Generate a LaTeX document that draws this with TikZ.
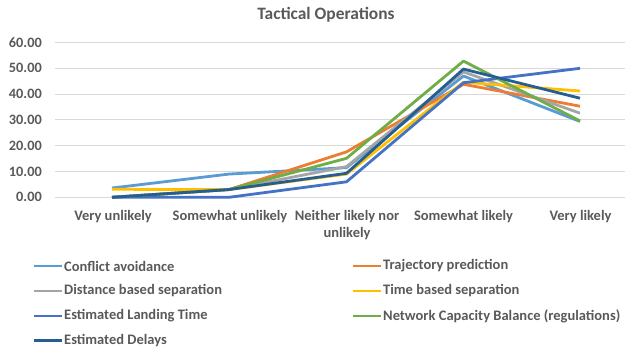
\documentclass[tikz,border=0pt]{standalone}
\usepackage{fontspec}
\setmainfont{Carlito}
\definecolor{txt}{HTML}{595959}
\definecolor{grid}{HTML}{D9D9D9}
\definecolor{sA}{HTML}{5B9BD5}
\definecolor{sB}{HTML}{ED7D31}
\definecolor{sC}{HTML}{A5A5A5}
\definecolor{sD}{HTML}{FFC000}
\definecolor{sE}{HTML}{4472C4}
\definecolor{sF}{HTML}{70AD47}
\definecolor{sG}{HTML}{255E91}
\tikzset{
  gridline/.style={draw=grid, line width=0.9pt},
  series/.style={line width=2.8pt, line join=round},
  ylab/.style={anchor=east, text=txt, font=\bfseries\fontsize{14.3}{16}\selectfont, inner sep=0pt},
  xlab/.style={anchor=base, text=txt, font=\bfseries\fontsize{14.5}{17}\selectfont, inner sep=0pt},
  leglab/.style={anchor=west, text=txt, font=\bfseries\fontsize{14.5}{16}\selectfont, inner sep=0pt},
  legline/.style={line width=2.8pt},
}
\begin{document}
\begin{tikzpicture}[x=1pt,y=-1pt]
\useasboundingbox (0,0) rectangle (625,353);
% title
\node[text=txt, font=\bfseries\fontsize{17.4}{20}\selectfont, inner sep=0pt] (title) at (326,15) {Tactical Operations};
% gridlines and y labels (zero at 197.3, 2.58 px per unit)
\foreach \v/\t in {0/0.00,10/10.00,20/20.00,30/30.00,40/40.00,50/50.00,60/60.00}{
  \draw[gridline] (55,{197.3-2.58*\v}) -- (625,{197.3-2.58*\v});
  \node[ylab] (y\v) at (42,{197.3-2.58*\v}) {\t};
}
% x labels
\node[xlab] (c1) at (113,220) {Very unlikely};
\node[xlab] (c2) at (230,220) {Somewhat unlikely};
\node[xlab] (c3) at (347,220) {Neither likely nor};
\node[xlab] (c3b) at (347,237) {unlikely};
\node[xlab] (c4) at (463.5,220) {Somewhat likely};
\node[xlab] (c5) at (580.5,220) {Very likely};
% series
\newcommand{\ser}[6]{%
  \draw[series,#1] (112,{197.3-2.58*#2}) -- (229,{197.3-2.58*#3}) -- (346.5,{197.3-2.58*#4}) -- (463.5,{197.3-2.58*#5}) -- (580,{197.3-2.58*#6});}
\ser{sA}{3.6}{9.0}{11.5}{47.0}{29.4}
\ser{sB}{0}{3.0}{17.6}{43.8}{35.3}
\ser{sC}{0}{3.0}{11.9}{48.6}{32.6}
\ser{sD}{3.1}{3.0}{9.0}{44.6}{41.2}
\ser{sE}{0}{0}{6.0}{44.4}{50.0}
\ser{sF}{0}{3.0}{15.1}{52.8}{29.6}
\ser{sG}{0}{3.0}{9.3}{49.7}{38.4}
% legend
\newcommand{\legitem}[5]{%
  \draw[legline,#1] (#2,#3) -- ++(28,0);
  \node[leglab] (#4) at ({#2+30},#3) {#5};}
\legitem{sA}{34}{266}{lA}{Conflict avoidance}
\legitem{sB}{353}{266}{lB}{Trajectory prediction}
\legitem{sC}{34}{291}{lC}{Distance based separation}
\legitem{sD}{353}{291}{lD}{Time based separation}
\legitem{sE}{34}{316}{lE}{Estimated Landing Time}
\legitem{sF}{353}{316}{lF}{Network Capacity Balance (regulations)}
\legitem{sG}{34}{340.5}{lG}{Estimated Delays}
\end{tikzpicture}
\end{document}
